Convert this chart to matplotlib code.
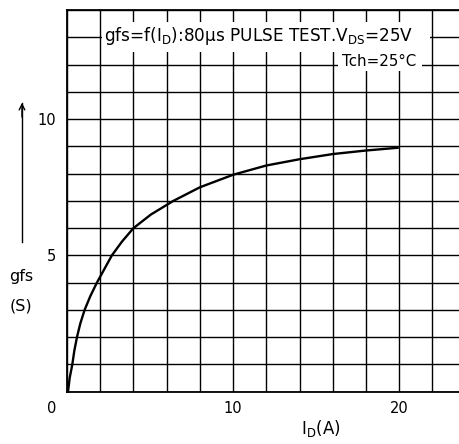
import matplotlib.pyplot as plt
from matplotlib.patches import Rectangle

plt.rcParams['font.family'] = ['DejaVu Sans']

# gfs vs ID
i_d = [0.06, 0.16, 0.32, 0.44, 0.6, 0.8, 1.06, 1.4, 1.8, 2.25, 2.7, 3.3, 4.0, 5.05, 6.4,
       8.0, 10.0, 12.0, 14.0, 16.0, 18.0, 19.9]
gfs = [0.0, 0.5, 1.0, 1.5, 2.0, 2.5, 3.0, 3.5, 4.0, 4.5, 5.0, 5.5, 6.0, 6.5, 7.0,
       7.5, 7.96, 8.3, 8.53, 8.72, 8.85, 8.95]

x_major = [10, 20]
y_major = [5, 10]
x_lim = (0, 23.6)
y_lim = (0, 14)

fig = plt.figure(figsize=(4.59, 4.44), dpi=100)
ax = fig.add_axes([0.146, 0.118, 0.854, 0.859])
ax.set_xlim(*x_lim)
ax.set_ylim(*y_lim)

ax.set_xticks(x_major)
ax.set_yticks(y_major)
ax.set_xticks(range(0, 24, 2), minor=True)
ax.set_yticks(range(0, 15), minor=True)
ax.grid(which='both', color='black', lw=1.0)
ax.tick_params(which='both', length=0, labelsize=10.5)
ax.tick_params(axis='x', pad=7)
ax.tick_params(axis='y', pad=8)
for s in ax.spines.values():
    s.set_linewidth(1.3)
ax.spines['right'].set_visible(False)

ax.plot(i_d, gfs, color='black', lw=1.7, zorder=5, clip_on=False)

# white patches where the printed notes sit over the grid
ax.add_patch(Rectangle((2.08, 12.45), 19.8, 1.12, facecolor='white', edgecolor='none', zorder=3))
ax.add_patch(Rectangle((16.3, 11.78), 5.1, 0.68, facecolor='white', edgecolor='none', zorder=3))
ax.text(2.2, 13.05, r'gfs=f(I$\mathregular{_D}$):80μs PULSE TEST.V$\mathregular{_{DS}}$=25V',
        fontsize=12.2, va='center', ha='left', zorder=4)
ax.text(16.55, 12.1, 'Tch=25°C', fontsize=10.8, va='center', ha='left', zorder=4)

fig.text(52 / 459, 1 - 408 / 444, '0', fontsize=10.5, ha='center', va='center')
fig.text(321 / 459, 1 - 428 / 444, r'I$\mathregular{_D}$(A)', fontsize=12, ha='center', va='center')
fig.text(21 / 459, 1 - 276 / 444, 'gfs', fontsize=11.5, ha='center', va='center')
fig.text(21 / 459, 1 - 306 / 444, '(S)', fontsize=11.5, ha='center', va='center')
fig.add_artist(plt.Line2D([22 / 459, 22 / 459], [1 - 242 / 444, 1 - 103 / 444], color='black', lw=1))
ax.annotate('', xy=(22 / 459, 1 - 100 / 444), xytext=(22 / 459, 1 - 120 / 444),
            xycoords='figure fraction', textcoords='figure fraction',
            arrowprops=dict(arrowstyle='->', color='black', lw=1, mutation_scale=10))

fig.savefig('out.png', dpi=100)
